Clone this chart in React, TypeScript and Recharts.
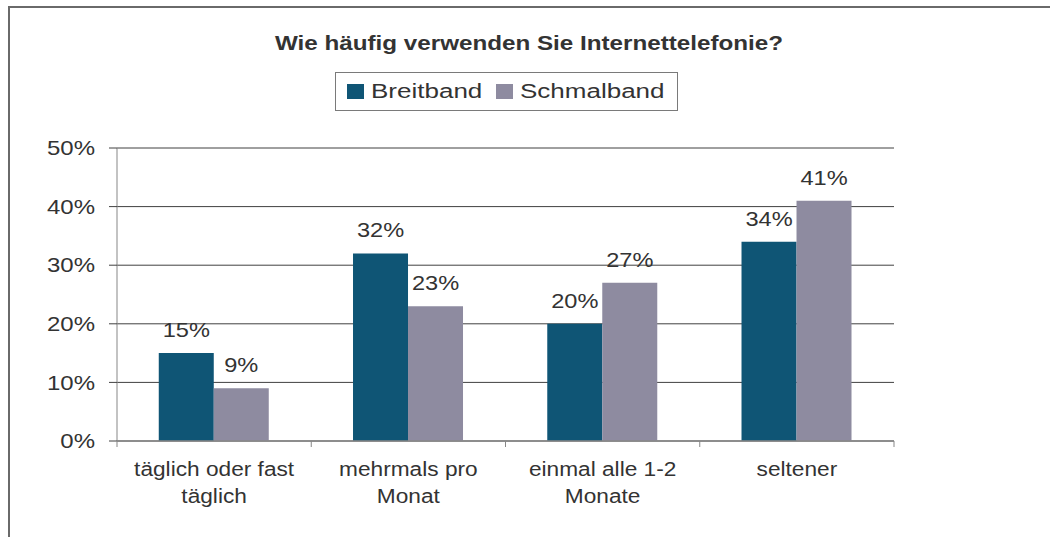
import React from "react";
import { BarChart, Bar, XAxis, YAxis, CartesianGrid, Legend, LabelList } from "recharts";

// Daten
const categories = [
  "täglich oder fast\ntäglich",
  "mehrmals pro\nMonat",
  "einmal alle 1-2\nMonate",
  "seltener",
];
const breitband = [15, 32, 20, 34];
const schmalband = [9, 23, 27, 41];
const yTicks = [0, 10, 20, 30, 40, 50];
const seriesNames = ["Breitband", "Schmalband"];
const chartTitle = "Wie häufig verwenden Sie Internettelefonie?";

const data = categories.map((cat, i) => ({
  cat,
  breitband: breitband[i],
  schmalband: schmalband[i],
}));

const FONT = '"Liberation Sans", Arial, sans-serif';
const TEXT = "#333333";
const C_BREIT = "#0f5575";
const C_SCHMAL = "#8e8ba0";
const AXIS = "#878787";
const GRID = "#404040";

function YTick(props: any) {
  const { x, y, payload } = props;
  return (
    <g transform={`translate(${x},${y})`}>
      <text
        transform="scale(1.2,1)"
        textAnchor="end"
        dy="0.36em"
        fontSize={20}
        fill={TEXT}
        fontFamily={FONT}
      >
        {payload.value}%
      </text>
    </g>
  );
}

function XTick(props: any) {
  const { x, y, payload } = props;
  const lines = String(payload.value).split("\n");
  const half = payload.offset ?? 0;
  const isLast = payload.value === categories[categories.length - 1];
  return (
    <g>
      <line x1={x - half} x2={x - half} y1={y} y2={y + 6} stroke={AXIS} />
      {isLast && <line x1={x + half} x2={x + half} y1={y} y2={y + 6} stroke={AXIS} />}
      <g transform={`translate(${x},${y})`}>
        <text transform="scale(1.08,1)" textAnchor="middle" fontSize={21} fill={TEXT} fontFamily={FONT}>
          {lines.map((l, i) => (
            <tspan key={i} x={0} y={35 + i * 27}>
              {l}
            </tspan>
          ))}
        </text>
      </g>
    </g>
  );
}

function ValueLabel(props: any) {
  const { x, y, width, value } = props;
  return (
    <g transform={`translate(${x + width / 2},${y - 16})`}>
      <text transform="scale(1.18,1)" textAnchor="middle" fontSize={20} fill={TEXT} fontFamily={FONT}>
        {value}%
      </text>
    </g>
  );
}

function LegendBox() {
  const colors = [C_BREIT, C_SCHMAL];
  return (
    <div
      style={{
        boxSizing: "border-box",
        width: 343,
        height: 39,
        border: "1px solid #7a7a7a",
        background: "#fff",
        display: "flex",
        alignItems: "center",
        paddingLeft: 11,
        fontFamily: FONT,
        fontSize: 20,
        color: TEXT,
      }}
    >
      {seriesNames.map((name, i) => (
        <div key={name} style={{ width: i === 0 ? 149 : 170, display: "flex", alignItems: "center" }}>
          <span style={{ width: 17, height: 15, background: colors[i], display: "inline-block" }} />
          <span
            style={{
              display: "inline-block",
              marginLeft: 7,
              transform: "scaleX(1.3)",
              transformOrigin: "left center",
              whiteSpace: "nowrap",
            }}
          >
            {name}
          </span>
        </div>
      ))}
    </div>
  );
}

export default function App() {
  return (
    <div
      style={{
        position: "absolute",
        left: 0,
        top: 0,
        width: 1050,
        height: 537,
        overflow: "hidden",
        background: "#fff",
      }}
    >
      <div
        style={{
          position: "absolute",
          left: 8,
          top: 6,
          width: 1100,
          height: 600,
          border: "2px solid #6a6a6a",
        }}
      />
      <div
        style={{
          position: "absolute",
          left: 0,
          top: 33,
          width: 1058,
          textAlign: "center",
          fontFamily: FONT,
          fontWeight: "bold",
          fontSize: 20,
          lineHeight: "21px",
          color: TEXT,
          transform: "scaleX(1.21)",
        }}
      >
        {chartTitle}
      </div>
      <div style={{ position: "absolute", left: 0, top: 0 }}>
        <BarChart
          width={1050}
          height={537}
          data={data}
          margin={{ top: 148, right: 156, bottom: 26, left: 57 }}
          barCategoryGap="21.5%"
          barGap={0}
        >
          <CartesianGrid vertical={false} stroke={GRID} strokeWidth={1} />
          <XAxis
            dataKey="cat"
            height={70}
            interval={0}
            tick={<XTick />}
            tickLine={false}
            tickSize={0}
            tickMargin={0}
            axisLine={{ stroke: AXIS, strokeWidth: 1.5 }}
          />
          <YAxis
            width={60}
            domain={[0, 50]}
            ticks={yTicks}
            interval={0}
            tick={<YTick />}
            tickSize={8}
            tickMargin={14}
            tickLine={{ stroke: GRID }}
            axisLine={{ stroke: AXIS }}
          />
          <Legend
            layout="horizontal"
            verticalAlign="middle"
            align="center"
            content={<LegendBox />}
            wrapperStyle={{ position: "absolute", left: 335, top: 72, width: 343 }}
          />
          <Bar dataKey="breitband" name={seriesNames[0]} fill={C_BREIT} isAnimationActive={false}>
            <LabelList dataKey="breitband" content={<ValueLabel />} />
          </Bar>
          <Bar dataKey="schmalband" name={seriesNames[1]} fill={C_SCHMAL} isAnimationActive={false}>
            <LabelList dataKey="schmalband" content={<ValueLabel />} />
          </Bar>
        </BarChart>
      </div>
    </div>
  );
}
